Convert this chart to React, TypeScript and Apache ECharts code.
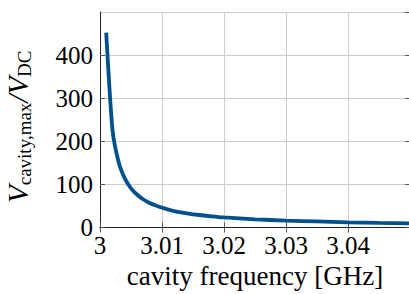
import React, { useEffect, useRef } from "react";
import * as echarts from "echarts";

const frequencyGHz = [
  3.001, 3.002, 3.003, 3.004, 3.005, 3.006, 3.007, 3.008, 3.009, 3.01,
  3.012, 3.014, 3.016, 3.018, 3.02, 3.025, 3.03, 3.035, 3.04, 3.045, 3.05,
];
const voltageRatio = [
  452, 228, 152, 114, 91, 76, 65, 57, 51, 46,
  38, 33, 29, 26, 23.5, 19, 16, 14, 12, 10.5, 9.5,
];
const xTicks = { min: 3, max: 3.05, interval: 0.01 };
const yTicks = { min: 0, max: 500, interval: 100 };

const FONT = "Liberation Serif";

export default function App() {
  const ref = useRef<HTMLDivElement>(null);
  useEffect(() => {
    if (!ref.current) return;
    const chart = echarts.init(ref.current, undefined, { renderer: "svg" });
    const axisLine = { show: true, lineStyle: { color: "#222", width: 1 } };
    const tick = { show: true, inside: true, length: 5, lineStyle: { color: "#555" } };
    const grid = { show: true, lineStyle: { color: "#cccccc", width: 1 } };
    const tickRich = { t: { fontFamily: FONT, fontSize: 25, color: "#000" } };
    chart.setOption({
      animation: false,
      backgroundColor: "#fff",
      textStyle: { fontFamily: FONT },
      grid: {
        left: 100,
        top: 12,
        width: 310,
        height: 215.5,
        containLabel: false,
        outerBoundsMode: "none",
      },
      xAxis: [
        {
          type: "value",
          min: xTicks.min,
          max: xTicks.max,
          interval: xTicks.interval,
          position: "bottom",
          axisLine,
          axisTick: tick,
          splitLine: grid,
          axisLabel: {
            color: "#000",
            fontFamily: FONT,
            fontSize: 25,
            margin: 5,
            showMaxLabel: false,
            formatter: (v: number) => `{t|${parseFloat(v.toFixed(3)).toString()}}`,
            rich: tickRich,
          },
          name: "cavity frequency [GHz]",
          nameLocation: "middle",
          nameGap: 28,
          nameTextStyle: { color: "#000", fontFamily: FONT, fontSize: 27 },
        },
        {
          type: "value",
          min: xTicks.min,
          max: xTicks.max,
          interval: xTicks.interval,
          position: "top",
          axisLine,
          axisTick: tick,
          splitLine: { show: false },
          axisLabel: { show: false },
        },
      ],
      yAxis: [
        {
          type: "value",
          min: yTicks.min,
          max: yTicks.max,
          interval: yTicks.interval,
          position: "left",
          axisLine,
          axisTick: tick,
          splitLine: grid,
          axisLabel: {
            color: "#000",
            fontFamily: FONT,
            fontSize: 25,
            margin: 7,
            showMaxLabel: false,
            formatter: (v: number) => `{t|${v}}`,
            rich: tickRich,
          },
          name: "{v|V}{s|cavity,max}{v|/V}{s|DC}",
          nameLocation: "middle",
          nameRotate: 90,
          nameGap: 66,
          nameTextStyle: {
            color: "#000",
            fontFamily: FONT,
            fontSize: 26,
            padding: [0, 14, 0, 0],
            rich: {
              v: { fontFamily: FONT, fontSize: 29, fontStyle: "italic", lineHeight: 32, color: "#000" },
              s: { fontFamily: FONT, fontSize: 19, lineHeight: 18, verticalAlign: "bottom", color: "#000" },
            },
          },
        },
        {
          type: "value",
          min: yTicks.min,
          max: yTicks.max,
          interval: yTicks.interval,
          position: "right",
          axisLine,
          axisTick: tick,
          splitLine: { show: false },
          axisLabel: { show: false },
        },
      ],
      series: [
        {
          type: "line",
          data: frequencyGHz.map((f, i) => [f, voltageRatio[i]]),
          showSymbol: false,
          smooth: 0.2,
          lineStyle: { color: "#00508c", width: 3.8 },
          clip: true,
        },
      ],
    });
    return () => chart.dispose();
  }, []);
  return (
    <div
      ref={ref}
      style={{ position: "fixed", left: 0, top: 0, width: 409, height: 294 }}
    />
  );
}
